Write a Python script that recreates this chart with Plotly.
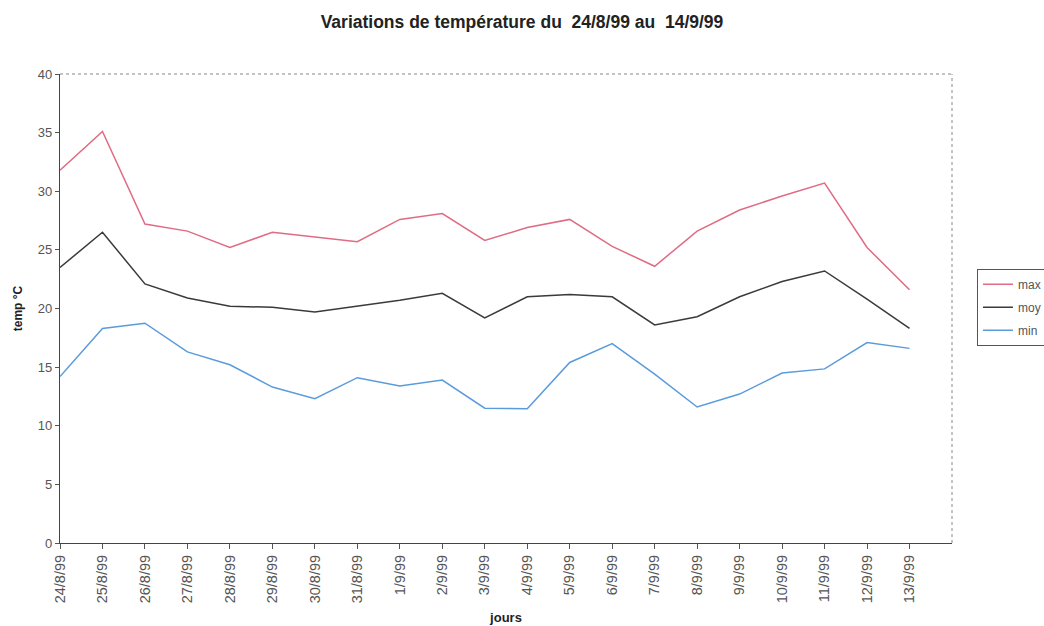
import plotly.graph_objects as go

# Daily temperatures, 24/8/99 to 13/9/99
jours = ["24/8/99", "25/8/99", "26/8/99", "27/8/99", "28/8/99", "29/8/99", "30/8/99",
         "31/8/99", "1/9/99", "2/9/99", "3/9/99", "4/9/99", "5/9/99", "6/9/99",
         "7/9/99", "8/9/99", "9/9/99", "10/9/99", "11/9/99", "12/9/99", "13/9/99"]
t_max = [31.8, 35.1, 27.2, 26.6, 25.2, 26.5, 26.1, 25.7, 27.6, 28.1, 25.8,
         26.9, 27.6, 25.3, 23.6, 26.6, 28.4, 29.6, 30.7, 25.2, 21.6]
t_moy = [23.5, 26.5, 22.1, 20.9, 20.2, 20.1, 19.7, 20.2, 20.7, 21.3, 19.2,
         21.0, 21.2, 21.0, 18.6, 19.3, 21.0, 22.3, 23.2, 20.8, 18.3]
t_min = [14.2, 18.3, 18.75, 16.3, 15.2, 13.3, 12.3, 14.1, 13.4, 13.9, 11.5,
         11.45, 15.4, 17.0, 14.4, 11.6, 12.7, 14.5, 14.85, 17.1, 16.6]

idx = list(range(len(jours)))
FONT = "Liberation Sans Narrow, Liberation Sans, Arial, sans-serif"

fig = go.Figure()
series = [("max", t_max, "#e06b84"), ("moy", t_moy, "#3a3a3a"), ("min", t_min, "#5a9bdc")]
for name, vals, col in series:
    fig.add_trace(go.Scatter(x=idx, y=vals, name=name, mode="lines", legendgroup=name,
                             line=dict(color=col, width=1.5)))

fig.update_layout(
    width=1044, height=626,
    paper_bgcolor="white", plot_bgcolor="white",
    margin=dict(l=60, r=92, t=74, b=83, autoexpand=False),
    font=dict(family=FONT, size=13, color="#444"),
    title=dict(text="<b>Variations de température du  24/8/99 au  14/9/99</b>",
               x=0.5, xref="container", xanchor="center", y=0.965, yanchor="middle",
               font=dict(family=FONT, size=17.5, color="#222")),
    showlegend=True,
    legend=dict(x=1.028, xanchor="left", y=0.585, yanchor="top",
                bordercolor="#555", borderwidth=1, bgcolor="white",
                font=dict(family=FONT, size=12, color="#555"),
                tracegroupgap=4, itemwidth=30),
    xaxis=dict(range=[0, 21], tickmode="array", tickvals=idx, ticktext=jours,
               tickangle=-90, ticks="outside", ticklen=5, tickcolor="#555",
               showline=True, linecolor="#444", linewidth=1.3, showgrid=False,
               zeroline=False, tickfont=dict(size=14.5, color="#555"),
               title=dict(text="<b>jours</b>", standoff=10,
                          font=dict(family=FONT, size=13, color="#222"))),
    yaxis=dict(range=[0, 40], dtick=5, ticks="outside", ticklen=4, tickcolor="#555",
               showline=True, linecolor="#444", linewidth=1.3, showgrid=False,
               zeroline=False, tickfont=dict(size=13, color="#555"),
               title=dict(text="<b>temp °C</b>", standoff=12,
                          font=dict(family=FONT, size=12, color="#222"))),
)

# Light dashed frame on the top and right of the plot area
fig.add_shape(type="line", xref="paper", yref="paper", x0=0, x1=1, y0=1, y1=1,
              line=dict(color="#888", width=1, dash="dot"))
fig.add_shape(type="line", xref="paper", yref="paper", x0=1, x1=1, y0=0, y1=1,
              line=dict(color="#888", width=1, dash="dot"))

fig.write_html("out.html")
